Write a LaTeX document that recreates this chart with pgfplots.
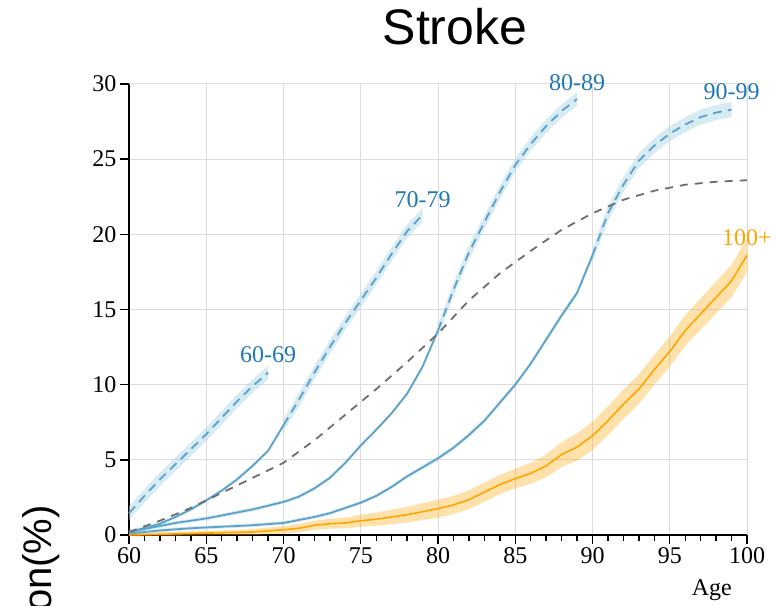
\documentclass[border=0pt]{standalone}
\usepackage{pgfplots}
\pgfplotsset{compat=1.18}
\usepgfplotslibrary{fillbetween}
\usepackage{pgfplotstable}
\usepackage{fontspec}
\setmainfont{Liberation Serif}
\newfontfamily\sansfont{Liberation Sans}

\definecolor{cline}{RGB}{94,162,204}
\definecolor{cband}{RGB}{173,216,230}
\definecolor{clabel}{RGB}{31,119,180}
\definecolor{oline}{RGB}{255,165,0}
\definecolor{gline}{RGB}{110,110,110}
\definecolor{cgrid}{RGB}{220,220,220}

% x = age, y = prevalence, e = half width of band
\pgfplotstableread{
x y e
60 1.45 0.45
61 2.6 0.45
62 3.7 0.45
63 4.7 0.45
64 5.7 0.45
65 6.7 0.45
66 7.8 0.45
67 8.9 0.45
68 9.9 0.45
69 10.8 0.45
}\tA
\pgfplotstableread{
x y e
60 0.2 0.12
61 0.45 0.12
62 0.75 0.12
63 1.2 0.12
64 1.7 0.12
65 2.3 0.12
66 2.95 0.12
67 3.7 0.12
68 4.6 0.12
69 5.6 0.12
70 7.3 0.15
}\tBs
\pgfplotstableread{
x y e
70 7.3 0.4
71 9.0 0.45
72 10.8 0.45
73 12.5 0.45
74 14.1 0.45
75 15.6 0.45
76 17.1 0.45
77 18.7 0.45
78 20.2 0.45
79 21.3 0.45
}\tBd
\pgfplotstableread{
x y e
60 0.2 0.12
61 0.4 0.12
62 0.6 0.12
63 0.8 0.12
64 0.95 0.12
65 1.1 0.12
66 1.3 0.12
67 1.5 0.12
68 1.7 0.12
69 1.95 0.12
70 2.2 0.12
71 2.55 0.12
72 3.1 0.12
73 3.8 0.12
74 4.8 0.12
75 5.95 0.12
76 7.0 0.12
77 8.1 0.12
78 9.4 0.12
79 11.2 0.15
80 13.6 0.2
}\tCs
\pgfplotstableread{
x y e
80 13.6 0.4
81 16.3 0.45
82 18.8 0.45
83 20.8 0.45
84 22.8 0.45
85 24.6 0.45
86 26.0 0.45
87 27.2 0.45
88 28.2 0.45
89 29.0 0.45
}\tCd
\pgfplotstableread{
x y e
60 0.1 0.12
62 0.3 0.12
64 0.45 0.12
66 0.55 0.12
68 0.65 0.12
70 0.8 0.12
71 1.0 0.12
72 1.2 0.12
73 1.45 0.12
74 1.8 0.12
75 2.15 0.12
76 2.6 0.12
77 3.2 0.12
78 3.9 0.12
79 4.5 0.15
80 5.1 0.15
81 5.8 0.15
82 6.65 0.15
83 7.6 0.15
84 8.8 0.15
85 10.0 0.15
86 11.4 0.15
87 13.0 0.18
88 14.6 0.2
89 16.1 0.2
90 18.6 0.25
}\tDs
\pgfplotstableread{
x y e
90 18.6 0.45
91 21.4 0.5
92 23.3 0.5
93 24.9 0.5
94 25.9 0.5
95 26.7 0.5
96 27.3 0.5
97 27.8 0.5
98 28.1 0.5
99 28.3 0.5
}\tDd
\pgfplotstableread{
x y e
60 0.0 0.1
62 0.05 0.12
64 0.1 0.14
66 0.15 0.16
68 0.2 0.2
70 0.35 0.25
71 0.45 0.28
72 0.65 0.3
73 0.75 0.33
74 0.8 0.36
75 0.95 0.4
76 1.05 0.44
77 1.2 0.48
78 1.35 0.52
79 1.55 0.56
80 1.75 0.6
81 2.0 0.61
82 2.35 0.62
83 2.85 0.63
84 3.35 0.64
85 3.75 0.65
86 4.1 0.7
87 4.6 0.76
88 5.35 0.82
89 5.85 0.9
90 6.6 0.95
91 7.6 0.96
92 8.7 0.97
93 9.7 0.98
94 11.0 0.99
95 12.2 1.0
96 13.6 1.02
97 14.7 1.04
98 15.8 1.06
99 16.9 1.08
100 18.6 1.1
}\tE
\pgfplotstableread{
x y
60 0.2
62 0.95
64 1.8
66 2.8
68 3.8
70 4.8
72 6.3
74 8.0
76 9.7
78 11.5
80 13.4
82 15.6
84 17.4
86 18.9
88 20.3
90 21.4
92 22.3
94 22.9
96 23.3
98 23.5
100 23.6
}\tG

\begin{document}
\begin{tikzpicture}
\begin{axis}[
  scale only axis, width=618pt, height=451pt,
  xmin=60, xmax=100, ymin=0, ymax=30,
  xtick={60,65,...,100}, ytick={0,5,...,30},
  minor x tick num=4,
  axis lines*=left, axis line style={-, line width=2.4pt, black},
  tick align=outside, tick pos=left,
  major tick length=9pt, minor tick length=6pt,
  every tick/.style={black, line width=1.4pt},
  grid=major, major grid style={cgrid, line width=1pt},
  ticklabel style={font=\fontsize{24}{24}\selectfont},
  /pgf/number format/assume math mode=true,
  xlabel={Age},
  xlabel style={at={(axis description cs:0.943,-0.122)}, anchor=center,
    font=\fontsize{24}{24}\selectfont},
  title={Stroke},
  title style={at={(axis description cs:0.5275,1)}, anchor=base, yshift=33pt,
    font=\sansfont\fontsize{50}{50}\selectfont},
  clip=false,
]
% bands
\addplot[name path=Ahi, draw=none, forget plot] table[x=x, y expr=\thisrow{y}+\thisrow{e}] {\tA};
\addplot[name path=Alo, draw=none, forget plot] table[x=x, y expr=\thisrow{y}-\thisrow{e}] {\tA};
\addplot[fill=cband, fill opacity=0.5, draw=none] fill between[of=Ahi and Alo];
\addplot[name path=Bshi, draw=none, forget plot] table[x=x, y expr=\thisrow{y}+\thisrow{e}] {\tBs};
\addplot[name path=Bslo, draw=none, forget plot] table[x=x, y expr=\thisrow{y}-\thisrow{e}] {\tBs};
\addplot[fill=cband, fill opacity=0.5, draw=none] fill between[of=Bshi and Bslo];
\addplot[name path=Bdhi, draw=none, forget plot] table[x=x, y expr=\thisrow{y}+\thisrow{e}] {\tBd};
\addplot[name path=Bdlo, draw=none, forget plot] table[x=x, y expr=\thisrow{y}-\thisrow{e}] {\tBd};
\addplot[fill=cband, fill opacity=0.5, draw=none] fill between[of=Bdhi and Bdlo];
\addplot[name path=Cshi, draw=none, forget plot] table[x=x, y expr=\thisrow{y}+\thisrow{e}] {\tCs};
\addplot[name path=Cslo, draw=none, forget plot] table[x=x, y expr=\thisrow{y}-\thisrow{e}] {\tCs};
\addplot[fill=cband, fill opacity=0.5, draw=none] fill between[of=Cshi and Cslo];
\addplot[name path=Cdhi, draw=none, forget plot] table[x=x, y expr=\thisrow{y}+\thisrow{e}] {\tCd};
\addplot[name path=Cdlo, draw=none, forget plot] table[x=x, y expr=\thisrow{y}-\thisrow{e}] {\tCd};
\addplot[fill=cband, fill opacity=0.5, draw=none] fill between[of=Cdhi and Cdlo];
\addplot[name path=Dshi, draw=none, forget plot] table[x=x, y expr=\thisrow{y}+\thisrow{e}] {\tDs};
\addplot[name path=Dslo, draw=none, forget plot] table[x=x, y expr=\thisrow{y}-\thisrow{e}] {\tDs};
\addplot[fill=cband, fill opacity=0.5, draw=none] fill between[of=Dshi and Dslo];
\addplot[name path=Ddhi, draw=none, forget plot] table[x=x, y expr=\thisrow{y}+\thisrow{e}] {\tDd};
\addplot[name path=Ddlo, draw=none, forget plot] table[x=x, y expr=\thisrow{y}-\thisrow{e}] {\tDd};
\addplot[fill=cband, fill opacity=0.5, draw=none] fill between[of=Ddhi and Ddlo];
% lines
\addplot[cline, line width=1.8pt, dash pattern=on 9pt off 6pt] table[x=x, y=y] {\tA};
\addplot[cline, line width=1.8pt] table[x=x, y=y] {\tBs};
\addplot[cline, line width=1.8pt, dash pattern=on 9pt off 6pt] table[x=x, y=y] {\tBd};
\addplot[cline, line width=1.8pt] table[x=x, y=y] {\tCs};
\addplot[cline, line width=1.8pt, dash pattern=on 9pt off 6pt] table[x=x, y=y] {\tCd};
\addplot[cline, line width=1.8pt] table[x=x, y=y] {\tDs};
\addplot[cline, line width=1.8pt, dash pattern=on 9pt off 6pt] table[x=x, y=y] {\tDd};
\addplot[gline, line width=1.8pt, dash pattern=on 8pt off 7pt] table[x=x, y=y] {\tG};
% 100+ group
\addplot[name path=Ehi, draw=none, forget plot] table[x=x, y expr=\thisrow{y}+\thisrow{e}] {\tE};
\addplot[name path=Elo, draw=none, forget plot] table[x=x, y expr=\thisrow{y}-\thisrow{e}] {\tE};
\addplot[fill=oline, fill opacity=0.33, draw=none] fill between[of=Ehi and Elo];
\addplot[oline, line width=1.6pt] table[x=x, y=y] {\tE};
% labels
\node[font=\fontsize{24}{24}\selectfont, text=clabel] at (axis cs:69,12) {60-69};
\node[font=\fontsize{24}{24}\selectfont, text=clabel] at (axis cs:79,22.3) {70-79};
\node[font=\fontsize{24}{24}\selectfont, text=clabel] at (axis cs:89,30.1) {80-89};
\node[font=\fontsize{24}{24}\selectfont, text=clabel] at (axis cs:99,29.5) {90-99};
\node[font=\fontsize{24}{24}\selectfont, text=oline] at (axis cs:100,19.8) {100+};
\end{axis}
\node[rotate=90, anchor=base east, inner sep=0pt, font=\sansfont\fontsize{40}{40}\selectfont] at (-77pt,30pt) {Proportion(\%)};
\pgfresetboundingbox
\path (-129pt,-70pt) rectangle (647pt,535pt);
\end{tikzpicture}
\end{document}
